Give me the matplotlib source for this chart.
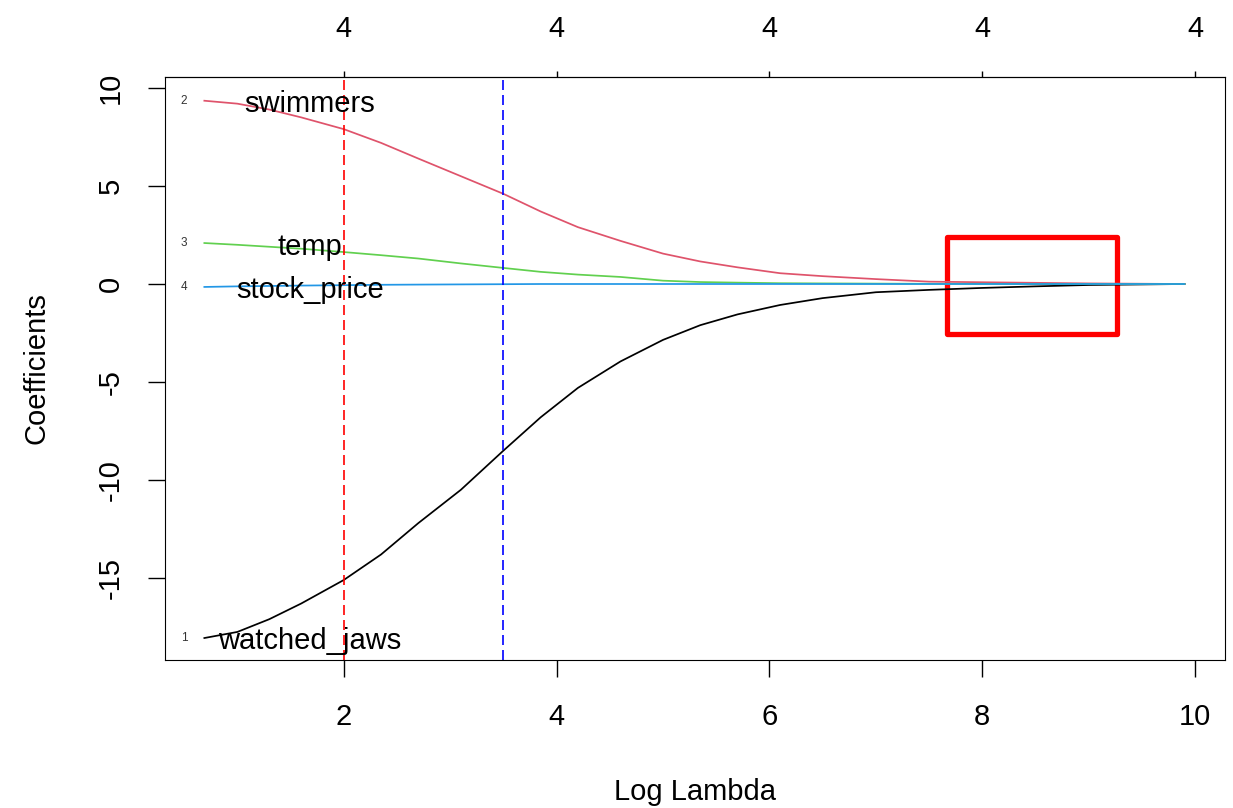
import matplotlib.pyplot as plt
from matplotlib.patches import Rectangle

plt.rcParams['font.family'] = ['Liberation Sans', 'DejaVu Sans']
plt.rcParams['axes.unicode_minus'] = False

# Regularisation path
log_lambda = [0.69, 1.0, 1.3, 1.6, 2.0, 2.35, 2.7, 3.1, 3.5, 3.85, 4.2, 4.6,
              5.0, 5.35, 5.7, 6.1, 6.5, 7.0, 7.5, 8.0, 8.5, 9.0, 9.9]
watched_jaws = [-18.06, -17.75, -17.1, -16.3, -15.1, -13.8, -12.2, -10.5, -8.5, -6.8,
                -5.3, -3.95, -2.85, -2.1, -1.55, -1.07, -0.72, -0.42, -0.3, -0.2,
                -0.12, -0.05, 0.0]
swimmers = [9.35, 9.2, 8.9, 8.5, 7.9, 7.2, 6.4, 5.5, 4.6, 3.7, 2.9, 2.2,
            1.55, 1.15, 0.85, 0.55, 0.4, 0.25, 0.12, 0.09, 0.06, 0.03, 0.0]
temp = [2.09, 2.0, 1.9, 1.8, 1.63, 1.47, 1.3, 1.05, 0.82, 0.62, 0.48, 0.36,
        0.17, 0.1, 0.07, 0.04, 0.03, 0.02, 0.01, 0.01, 0.0, 0.0, 0.0]
stock_price = [-0.15, -0.12, -0.1, -0.08, -0.06, -0.04, -0.03, -0.02, -0.01, 0.0,
               0.0, 0.0, 0.0, 0.0, 0.0, 0.0, 0.0, 0.0, 0.0, 0.0, 0.0, 0.0, 0.0]

series = [('watched_jaws', watched_jaws, 'black', '1'),
          ('swimmers', swimmers, '#DF536B', '2'),
          ('temp', temp, '#61D04F', '3'),
          ('stock_price', stock_price, '#2297E6', '4')]
label_x = 1.68

top_ticks = [2, 4, 6, 8, 10]
top_labels = ['4', '4', '4', '4', '4']
lambda_min = 2.0
lambda_1se = 3.5
box_x, box_y, box_w, box_h = 7.67, -2.55, 1.6, 4.95

fig = plt.figure(figsize=(12.33, 8.08), dpi=100)
ax = fig.add_axes([0.1338, 0.1832, 0.8597, 0.7215])

for name, vals, col, num in series:
    ax.plot(log_lambda, vals, color=col, lw=1.25)
    ax.text(0.5, vals[0], num, fontsize=8.5, color='#333333', ha='center', va='center')
    # variable name, nudged a little below the path start like R's text()
    ax.annotate(name, (label_x, vals[0]), xytext=(0, -2.5), textcoords='offset points',
                fontsize=21, ha='center', va='center')

ax.axvline(lambda_min, color='red', ls=(0, (6, 3)), lw=1.2)
ax.axvline(lambda_1se, color='blue', ls=(0, (6, 3)), lw=1.2)
ax.add_patch(Rectangle((box_x, box_y), box_w, box_h, fill=False, ec='red', lw=3.8,
                       joinstyle='round'))

ax.set_xlim(0.32, 10.28)
ax.set_ylim(-19.18, 10.56)
ax.set_xticks([2, 4, 6, 8, 10])
ax.set_yticks([-15, -10, -5, 0, 5, 10])
ax.tick_params(direction='out', length=12.5, width=1, labelsize=21)
ax.tick_params(axis='x', pad=18.5)
ax.tick_params(axis='y', pad=16.5)
for lab in ax.get_yticklabels():
    lab.set_rotation(90)
    lab.set_va('center')
ax.set_xlabel('Log Lambda', fontsize=21, va='center')
ax.xaxis.set_label_coords(0.5, -0.226)
ax.set_ylabel('Coefficients', fontsize=21, va='center')
ax.yaxis.set_label_coords(-0.1208, 0.5)

sec = ax.secondary_xaxis('top')
sec.set_xticks(top_ticks)
sec.set_xticklabels(top_labels)
sec.tick_params(direction='out', length=4.5, width=1, labelsize=21, pad=20)

plt.savefig('out.png', dpi=100)
